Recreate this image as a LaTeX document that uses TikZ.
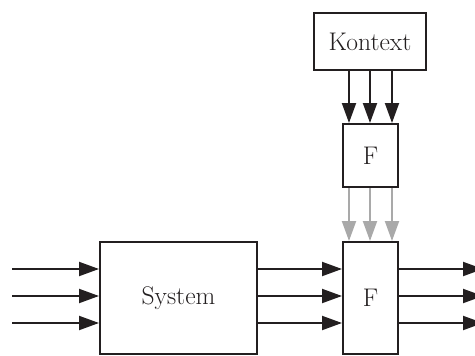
\documentclass[tikz,border=0pt]{standalone}
\usetikzlibrary{arrows.meta}
\definecolor{ink}{HTML}{231F20}
\definecolor{lgray}{HTML}{A9A9A9}
\begin{document}
\begin{tikzpicture}[x=1pt,y=-1pt,
  box/.style={draw=ink,line width=2pt,fill=white,inner sep=0pt,text=ink,
    font=\fontsize{25.5}{30}\selectfont},
  conn/.style={draw=ink,line width=2pt,-{Triangle[length=20pt,width=14pt]}},
  gconn/.style={draw=lgray,line width=2pt,-{Triangle[length=20pt,width=14pt]}}]
\useasboundingbox (0,0) rectangle (475,356);
\node[box,minimum width=112pt,minimum height=57pt] (kontext) at (370,41.5) {Kontext};
\node[box,minimum width=55pt,minimum height=63pt] (f1) at (370.5,155.5) {F};
\node[box,minimum width=157pt,minimum height=112pt] (system) at (178.5,298) {System};
\node[box,minimum width=55pt,minimum height=112pt] (f2) at (370.5,298) {F};
\foreach \i/\x in {1/349,2/370,3/392} {
  \coordinate (k\i) at (\x,0);
  \draw[conn] (kontext.south -| k\i) -- (f1.north -| k\i);
  \draw[gconn] (f1.south -| k\i) -- (f2.north -| k\i);
}
\foreach \i/\y in {1/269,2/296,3/323} {
  \coordinate (in\i) at (12,\y);
  \coordinate (out\i) at (483,\y);
  \draw[conn] (in\i) -- (system.west |- in\i);
  \draw[conn] (system.east |- in\i) -- (f2.west |- in\i);
  \draw[conn] (f2.east |- in\i) -- (out\i);
}
\end{tikzpicture}
\end{document}
